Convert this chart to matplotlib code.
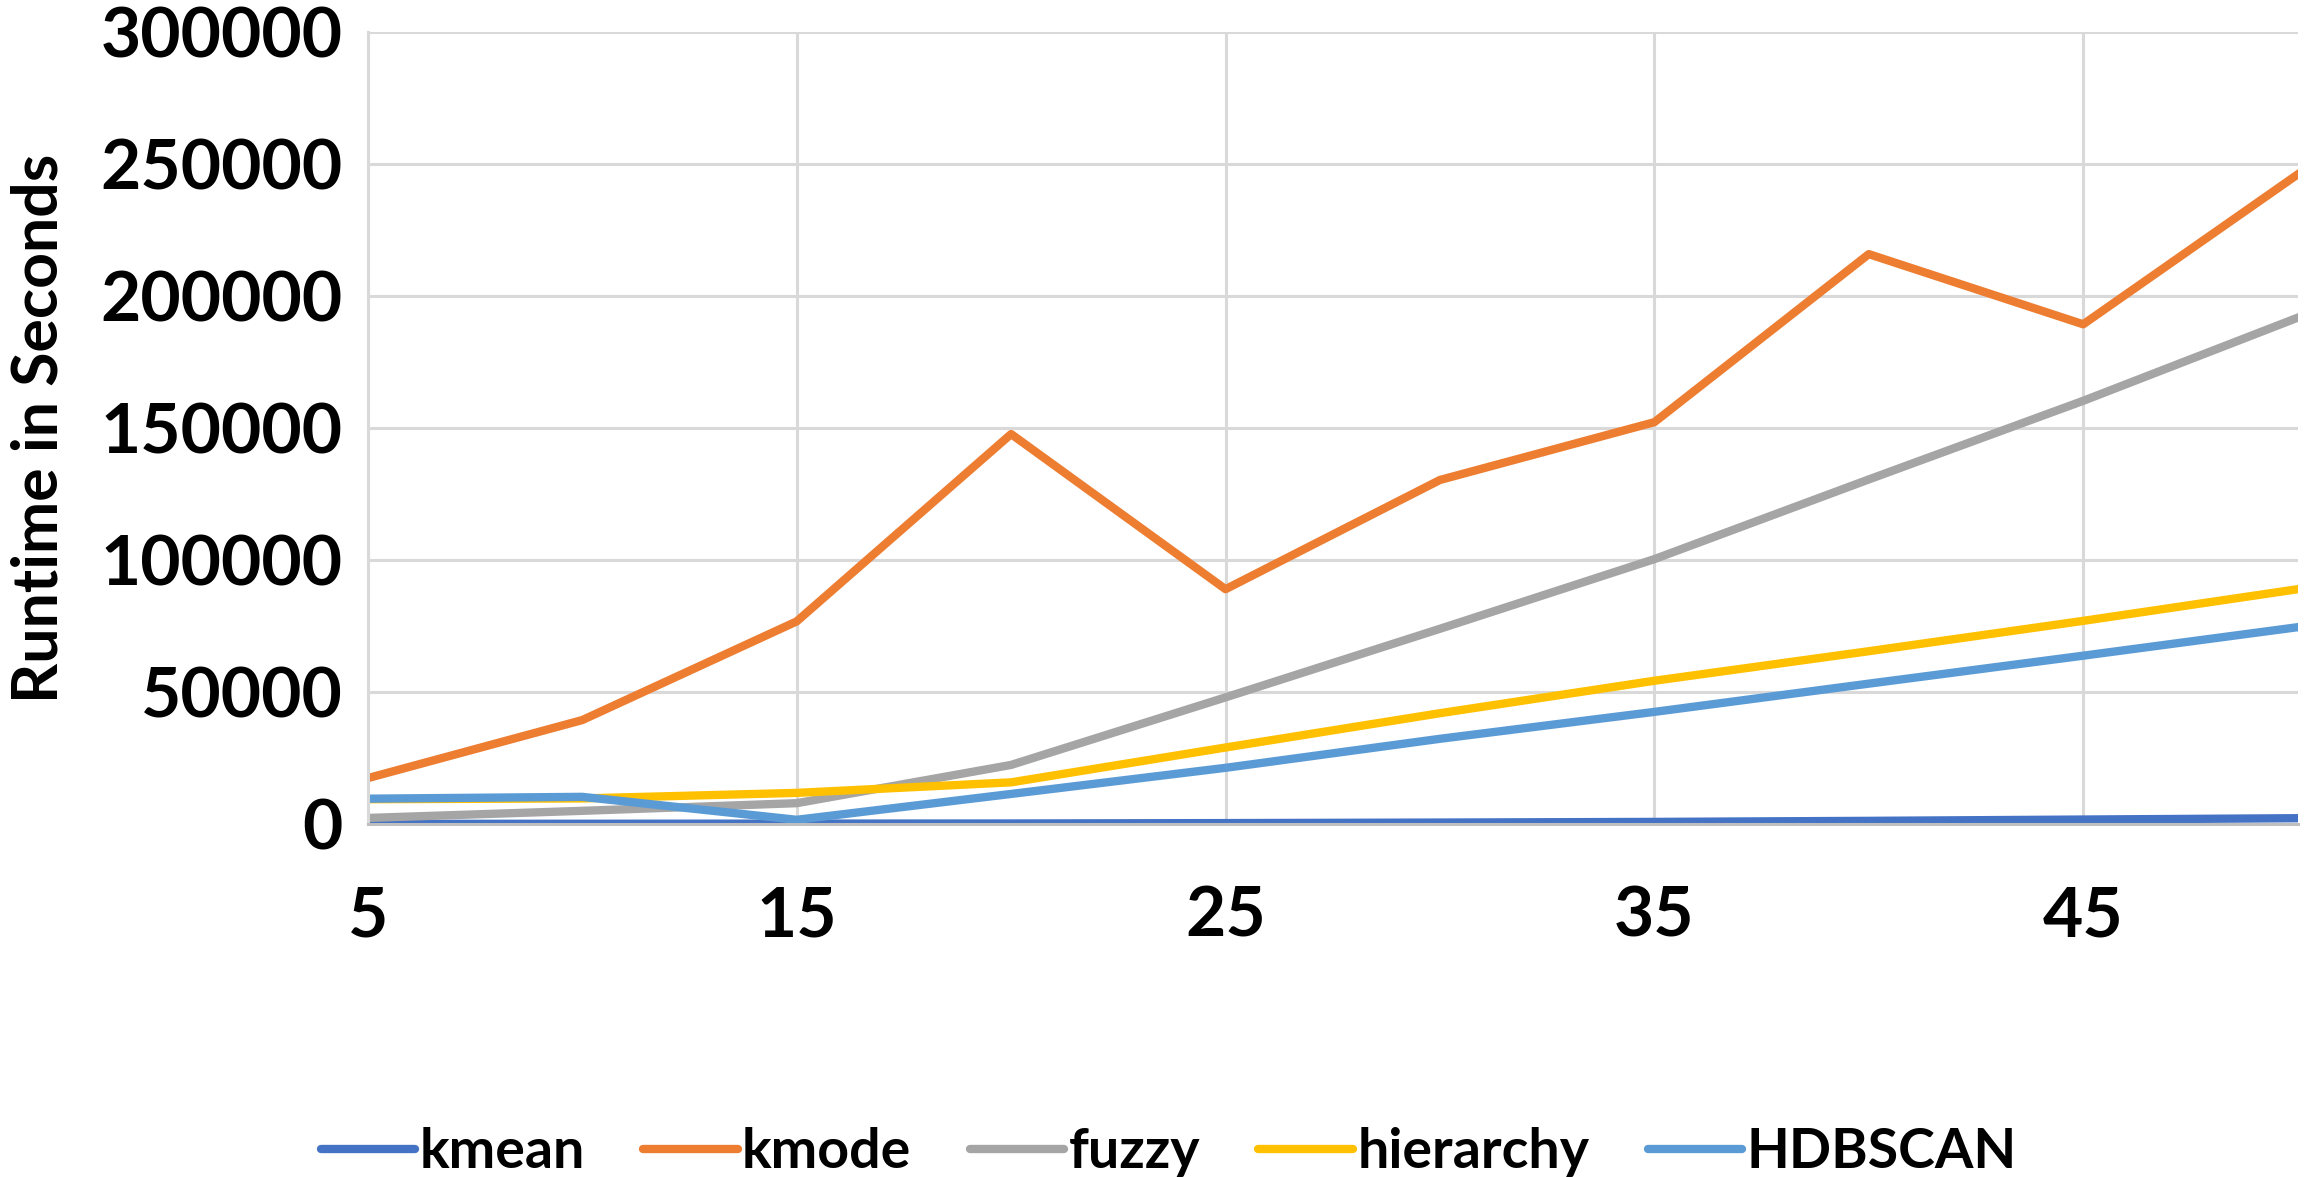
import matplotlib.pyplot as plt

# Runtime vs. size for each clustering method
sizes = [5, 10, 15, 20, 25, 30, 35, 40, 45, 50]
kmean = [50, 100, 150, 200, 350, 550, 800, 1200, 1700, 2200]
kmode = [17400, 39400, 76800, 147800, 89000, 130400, 152300, 216000, 189400, 246200]
fuzzy = [2300, 5000, 7900, 22400, 48000, 74000, 100400, 130600, 160400, 191900]
hierarchy = [9400, 9700, 11800, 15800, 29000, 42000, 54300, 65500, 77000, 89000]
hdbscan = [9600, 10300, 1600, 11400, 21300, 32300, 42500, 53200, 63800, 74600]

names = ["kmean", "kmode", "fuzzy", "hierarchy", "HDBSCAN"]
series = [kmean, kmode, fuzzy, hierarchy, hdbscan]
colors = ["#4472C4", "#ED7D31", "#A5A5A5", "#FFC000", "#5B9BD5"]

plt.rcParams["font.family"] = ["Lato", "DejaVu Sans"]
plt.rcParams["font.weight"] = "bold"

fig = plt.figure(figsize=(23.05, 11.77), dpi=100)
ax = fig.add_axes([0.1596, 0.2999, 0.8372, 0.6725])

for name, vals, c in zip(names, series, colors):
    ax.plot(sizes, vals, color=c, lw=6, label=name, solid_joinstyle="round")

ax.set_xlim(5, 50)
ax.set_ylim(0, 300000)
ax.set_xticks([5, 15, 25, 35, 45])
ax.set_yticks(range(0, 300001, 50000))
ax.grid(True, color="#D9D9D9", lw=2.2)
ax.set_axisbelow(True)
for s in ["top", "right"]:
    ax.spines[s].set_visible(False)
ax.spines["left"].set_color("#D9D9D9")
ax.spines["left"].set_linewidth(2.2)
ax.spines["bottom"].set_color("#BFBFBF")
ax.spines["bottom"].set_linewidth(2.2)
ax.tick_params(axis="both", length=0, labelsize=50)
ax.tick_params(axis="y", pad=18)
ax.tick_params(axis="x", pad=44)

ax.set_ylabel("Runtime in Seconds", fontsize=45, fontweight="bold")
ax.yaxis.set_label_coords(-0.155, 0.5)

leg = fig.legend(loc="center", bbox_to_anchor=(0.507, 0.021), ncol=5,
                 frameon=False, fontsize=40, handlelength=1.7,
                 handletextpad=0.08, columnspacing=1.05)
for h in leg.get_lines():
    h.set_solid_capstyle("round")

fig.savefig("out.png", dpi=100)
